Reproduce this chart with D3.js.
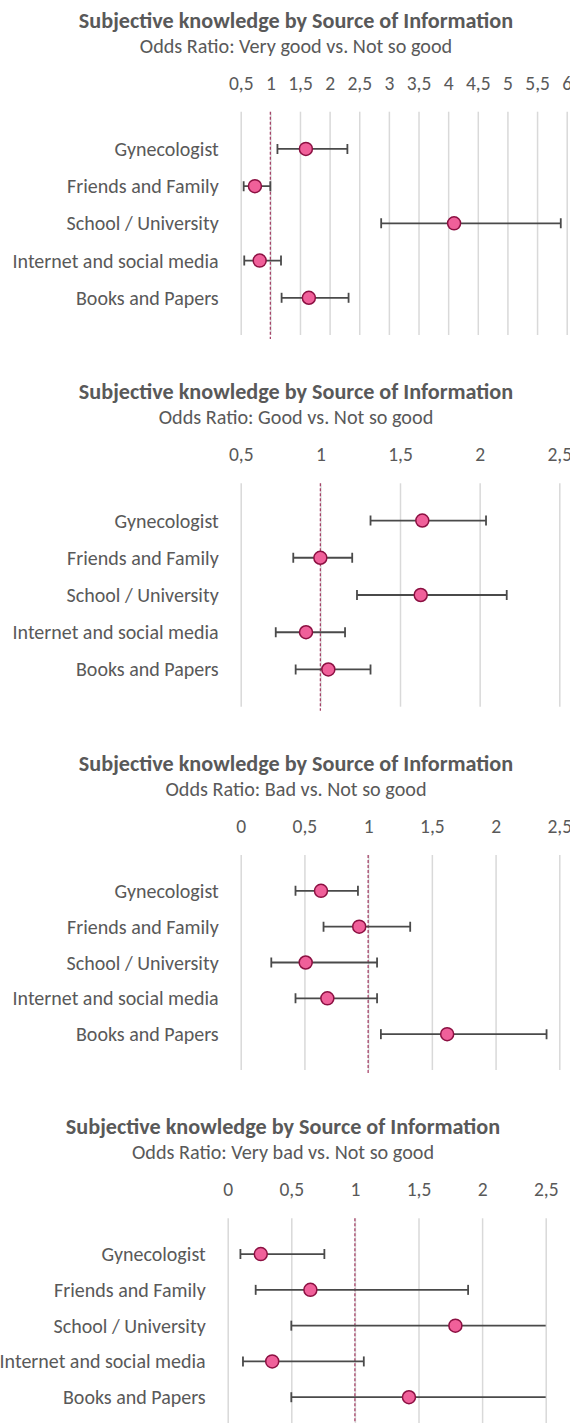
<!DOCTYPE html>
<html>
<head>
<meta charset="utf-8">
<script src="https://cdn.jsdelivr.net/npm/d3@7"></script>
<style>
  html, body { margin: 0; padding: 0; background: #fff; }
  svg { display: block; }
  text { font-family: Carlito, Lato, sans-serif; fill: #595959; }
</style>
</head>
<body>
<svg width="570" height="1423"></svg>
<script>
const categories = [
  "Gynecologist",
  "Friends and Family",
  "School / University",
  "Internet and social media",
  "Books and Papers"
];

// Very good vs. Not so good
const veryGoodOR = [1.6, 0.74, 4.1, 0.82, 1.65];
const veryGoodLow = [1.12, 0.55, 2.87, 0.56, 1.19];
const veryGoodHigh = [2.3, 1.0, 5.9, 1.18, 2.32];
const veryGoodTicks = [0.5, 1, 1.5, 2, 2.5, 3, 3.5, 4, 4.5, 5, 5.5, 6];

// Good vs. Not so good
const goodOR = [1.64, 1.0, 1.63, 0.91, 1.05];
const goodLow = [1.315, 0.83, 1.23, 0.72, 0.845];
const goodHigh = [2.04, 1.2, 2.17, 1.155, 1.315];
const goodTicks = [0.5, 1, 1.5, 2, 2.5];

// Bad vs. Not so good
const badOR = [0.63, 0.93, 0.51, 0.68, 1.62];
const badLow = [0.43, 0.65, 0.24, 0.43, 1.1];
const badHigh = [0.92, 1.33, 1.07, 1.07, 2.4];
const badTicks = [0, 0.5, 1, 1.5, 2, 2.5];

// Very bad vs. Not so good (two upper limits run past the axis end)
const veryBadOR = [0.26, 0.65, 1.79, 0.35, 1.425];
const veryBadLow = [0.1, 0.22, 0.5, 0.12, 0.5];
const veryBadHigh = [0.76, 1.89, 3.0, 1.07, 3.0];
const veryBadTicks = [0, 0.5, 1, 1.5, 2, 2.5];

const title = "Subjective knowledge by Source of Information";

const locale = d3.formatLocale({ decimal: ",", thousands: ".", grouping: [3], currency: ["", ""] });
const fmt = locale.format("~g");

const charts = [
  { sub: "Odds Ratio: Very good vs. Not so good", or: veryGoodOR, low: veryGoodLow, high: veryGoodHigh,
    ticks: veryGoodTicks, domain: [0.5, 6], left: 240.7, right: 566.7, top: 111.7, bottom: 335 },
  { sub: "Odds Ratio: Good vs. Not so good", or: goodOR, low: goodLow, high: goodHigh,
    ticks: goodTicks, domain: [0.5, 2.5], left: 240.7, right: 559.3, top: 483.3, bottom: 706.7 },
  { sub: "Odds Ratio: Bad vs. Not so good", or: badOR, low: badLow, high: badHigh,
    ticks: badTicks, domain: [0, 2.5], left: 240.7, right: 559.3, top: 855, bottom: 1070 },
  { sub: "Odds Ratio: Very bad vs. Not so good", or: veryBadOR, low: veryBadLow, high: veryBadHigh,
    ticks: veryBadTicks, domain: [0, 2.5], left: 227.7, right: 545.7, top: 1218.3, bottom: 1433 }
];

const svg = d3.select("svg");

charts.forEach((c, ci) => {
  const x = d3.scaleLinear().domain(c.domain).range([c.left, c.right]);
  const y = d3.scalePoint().domain(categories).range([c.top, c.bottom]).padding(1);
  const g = svg.append("g");

  // titles
  g.append("text")
    .attr("x", c.left + 55.3)
    .attr("y", c.top - 84)
    .attr("text-anchor", "middle")
    .attr("font-size", 22.2)
    .attr("font-weight", "bold")
    .text(title);
  g.append("text")
    .attr("x", c.left + 55.3)
    .attr("y", c.top - 59)
    .attr("text-anchor", "middle")
    .attr("font-size", 20.2)
    .text(c.sub);

  // gridlines
  g.append("g")
    .attr("transform", `translate(0,${c.top})`)
    .call(d3.axisTop(x).tickValues(c.ticks).tickSize(-(c.bottom - c.top)).tickFormat(""))
    .call((a) => a.select(".domain").remove())
    .call((a) => a.selectAll("line").attr("stroke", "#d9d9d9").attr("stroke-width", 1.5));

  // tick labels
  g.append("g")
    .attr("transform", `translate(0,${c.top})`)
    .call(d3.axisTop(x).tickValues(c.ticks).tickSize(0).tickPadding(22).tickFormat(fmt))
    .call((a) => a.select(".domain").remove())
    .call((a) => a.selectAll("text").attr("font-size", 19.5).attr("fill", "#595959")
      .style("font-family", "Carlito, Lato, sans-serif"));

  // category labels
  g.selectAll(".cat")
    .data(categories)
    .join("text")
    .attr("x", c.left - 22)
    .attr("y", (d) => y(d))
    .attr("dy", "0.35em")
    .attr("text-anchor", "end")
    .attr("font-size", 20)
    .text((d) => d);

  // reference line at OR = 1
  g.append("line")
    .attr("x1", x(1)).attr("x2", x(1))
    .attr("y1", c.top).attr("y2", c.bottom + 4)
    .attr("stroke", "#a33a62")
    .attr("stroke-width", 1.2)
    .attr("stroke-dasharray", "3,2");

  const clipId = "clip" + ci;
  svg.append("clipPath").attr("id", clipId)
    .append("rect")
    .attr("x", c.left).attr("y", c.top)
    .attr("width", c.right - c.left).attr("height", c.bottom - c.top);

  const rows = categories.map((cat, i) => ({ cat, or: c.or[i], low: c.low[i], high: c.high[i] }));
  const bars = g.append("g").attr("clip-path", `url(#${clipId})`);

  bars.selectAll(".ci")
    .data(rows)
    .join("line")
    .attr("x1", (d) => x(d.low))
    .attr("x2", (d) => x(d.high))
    .attr("y1", (d) => y(d.cat))
    .attr("y2", (d) => y(d.cat))
    .attr("stroke", "#4a4a4a")
    .attr("stroke-width", 1.8);

  const caps = [];
  rows.forEach((d) => {
    [d.low, d.high].forEach((v) => {
      if (v >= c.domain[0] && v <= c.domain[1]) caps.push({ cat: d.cat, v });
    });
  });
  bars.selectAll(".cap")
    .data(caps)
    .join("line")
    .attr("x1", (d) => x(d.v))
    .attr("x2", (d) => x(d.v))
    .attr("y1", (d) => y(d.cat) - 5)
    .attr("y2", (d) => y(d.cat) + 5)
    .attr("stroke", "#4a4a4a")
    .attr("stroke-width", 1.8);

  g.selectAll(".pt")
    .data(rows)
    .join("circle")
    .attr("cx", (d) => x(d.or))
    .attr("cy", (d) => y(d.cat))
    .attr("r", 6.5)
    .attr("fill", "#f0609a")
    .attr("stroke", "#8c1042")
    .attr("stroke-width", 1.5);
});
</script>
</body>
</html>
